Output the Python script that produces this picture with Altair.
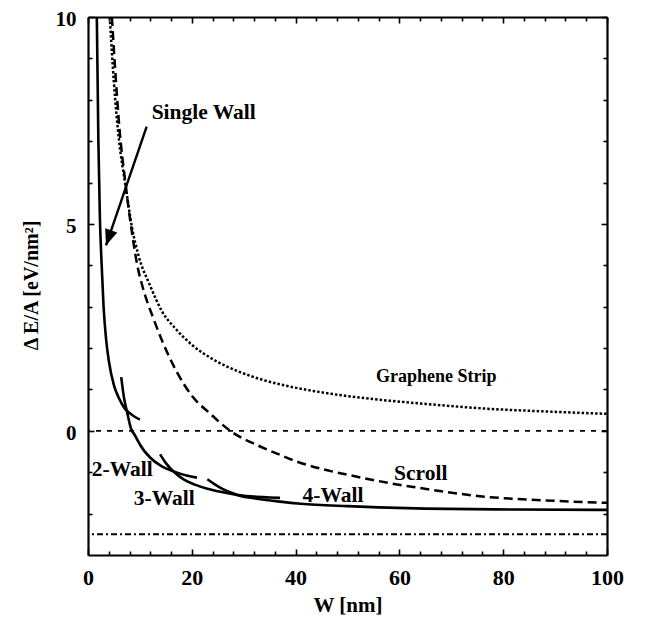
import altair as alt
import pandas as pd

# ---- data ----
single_x = [1.7, 2.0, 2.3, 2.6, 3.0, 3.5, 4.0, 5.0, 6.0, 7.0, 8.0, 9.0, 10.0]
single_y = [10.0, 7.0, 5.1, 4.1, 3.0, 2.2, 1.7, 1.1, 0.78, 0.55, 0.43, 0.34, 0.27]

wall2_x = [6.4, 7.0, 7.5, 8.3, 9.0, 9.7, 10.0, 12.0, 14.0, 16.5, 19.0, 21.0]
wall2_y = [1.3, 0.75, 0.47, 0.05, -0.1, -0.26, -0.33, -0.65, -0.84, -0.98, -1.08, -1.13]

wall3_x = [13.9, 15.0, 16.8, 18.5, 20.6, 23.0, 25.0, 27.0, 29.0, 32.0, 35.0, 37.0]
wall3_y = [-0.57, -0.78, -1.02, -1.18, -1.30, -1.40, -1.46, -1.51, -1.55, -1.59, -1.61, -1.62]

wall4_x = [23.0, 24.5, 26.0, 27.5, 29.0, 32.0, 37.0, 41.0, 50.0, 56.0, 65.0, 82.0, 100.0]
wall4_y = [-1.17, -1.30, -1.41, -1.49, -1.56, -1.63, -1.71, -1.76, -1.82, -1.85, -1.88, -1.90, -1.91]

scroll_x = [4.6, 5.2, 6.0, 7.3, 8.4, 9.5, 10.7, 12.5, 14.2, 17.0, 20.0, 23.5, 27.4,
            32.5, 37.0, 40.2, 45.0, 50.0, 58.0, 66.0, 75.5, 88.0, 100.0]
scroll_y = [10.0, 8.8, 7.4, 5.9, 4.85, 4.0, 3.4, 2.75, 2.2, 1.45, 0.85, 0.42, 0.0,
            -0.34, -0.58, -0.74, -0.92, -1.06, -1.26, -1.42, -1.58, -1.68, -1.74]

strip_x = [4.2, 5.0, 6.0, 7.26, 8.5, 9.7, 12.0, 14.2, 17.0, 20.0, 24.5, 29.3, 34.0,
           38.9, 45.0, 50.0, 58.0, 67.0, 77.5, 88.0, 100.0]
strip_y = [10.0, 8.4, 7.0, 5.9, 4.9, 4.25, 3.5, 2.9, 2.45, 2.08, 1.7, 1.42, 1.22,
           1.07, 0.93, 0.84, 0.73, 0.63, 0.53, 0.47, 0.41]

ref_zero = [0.0]
ref_limit = [-2.5]

x_major = [0, 20, 40, 60, 80, 100]
x_minor = [4, 8, 12, 16, 24, 28, 32, 36, 44, 48, 52, 56, 64, 68, 72, 76, 84, 88, 92, 96]
y_major = [0, 5, 10]
y_minor = [-2, -1, 1, 2, 3, 4, 6, 7, 8, 9]

label_text = ["Single Wall", "Graphene Strip", "Scroll", "2-Wall", "3-Wall", "4-Wall"]
label_x = [22.3, 67.1, 64.1, 6.6, 14.7, 47.2]
label_y = [7.53, 1.18, -1.18, -1.10, -1.80, -1.72]
label_size = [21.5, 18, 21.5, 21.5, 21.5, 21.5]

arrow_from = (11.3, 7.35)
arrow_to = (3.47, 4.48)

FONT = "Liberation Serif"
xs = alt.Scale(domain=[0, 100], nice=False, zero=False)
ys = alt.Scale(domain=[-3, 10], nice=False, zero=False)

walls = pd.concat([
    pd.DataFrame({"W": single_x, "E": single_y, "s": "single"}),
    pd.DataFrame({"W": wall2_x, "E": wall2_y, "s": "w2"}),
    pd.DataFrame({"W": wall3_x, "E": wall3_y, "s": "w3"}),
    pd.DataFrame({"W": wall4_x, "E": wall4_y, "s": "w4"}),
])
scroll = pd.DataFrame({"W": scroll_x, "E": scroll_y})
strip = pd.DataFrame({"W": strip_x, "E": strip_y})


def X(field="W"):
    return alt.X(f"{field}:Q", scale=xs, axis=None)


def Y(field="E"):
    return alt.Y(f"{field}:Q", scale=ys, axis=None)


wall_layer = alt.Chart(walls).mark_line(
    color="black", strokeWidth=2.6, interpolate="monotone", clip=True
).encode(x=X(), y=Y(), detail="s:N")

scroll_layer = alt.Chart(scroll).mark_line(
    color="black", strokeWidth=2.5, strokeDash=[9, 5], interpolate="monotone", clip=True
).encode(x=X(), y=Y())

strip_layer = alt.Chart(strip).mark_line(
    color="black", strokeWidth=2.5, strokeDash=[2.5, 2], interpolate="monotone", clip=True
).encode(x=X(), y=Y())

zero_layer = alt.Chart(pd.DataFrame({"E": ref_zero})).mark_rule(
    color="black", strokeWidth=1.8, strokeDash=[5, 6]
).encode(y=Y())

limit_layer = alt.Chart(pd.DataFrame({"E": ref_limit})).mark_rule(
    color="black", strokeWidth=2, strokeDash=[6, 3, 2, 3]
).encode(y=Y())

labels = pd.DataFrame({"t": label_text, "W": label_x, "E": label_y, "fs": label_size})
label_layer = alt.Chart(labels).mark_text(
    font=FONT, fontWeight="bold", color="black", align="center", baseline="alphabetic"
).encode(x=X(), y=Y(), text="t:N", size=alt.Size("fs:Q", scale=None, legend=None))

arrow_df = pd.DataFrame({"W": [arrow_from[0]], "E": [arrow_from[1]],
                         "W2": [arrow_to[0]], "E2": [arrow_to[1]]})
arrow_shaft = alt.Chart(arrow_df).mark_rule(color="black", strokeWidth=2.4).encode(
    x=X(), y=Y(), x2="W2:Q", y2="E2:Q")
arrow_head = alt.Chart(arrow_df).mark_point(
    shape="M0,0 L-0.4,1 L0.4,1 Z", filled=True, color="black", opacity=1,
    size=1024, angle=199
).encode(x=X("W2"), y=Y("E2"))

# ---- axes (labels + inward major/minor ticks on all sides, frame via domains) ----
ax_df = pd.DataFrame({"W": [50], "E": [0]})


def axis_layer(xaxis, yaxis):
    return alt.Chart(ax_df).mark_point(opacity=0).encode(
        x=alt.X("W:Q", scale=xs, axis=xaxis),
        y=alt.Y("E:Q", scale=ys, axis=yaxis),
    )


dom = dict(domain=True, domainColor="black", domainWidth=2.2, grid=False)
tick_common = dict(grid=False, domain=False, labels=False, title=None,
                   tickColor="black", tickWidth=1.6)

lab_x = alt.Axis(orient="bottom", values=x_major, ticks=False, labelFont=FONT,
                 labelFontSize=22, labelFontWeight="bold", labelColor="black",
                 labelPadding=29, labelBaseline="alphabetic", labelOverlap=False,
                 labelFlush=False, format="d", title="W [nm]", titleFont=FONT,
                 titleFontSize=21, titleFontWeight="bold", titleColor="black",
                 titleY=56, titleBaseline="alphabetic", **dom)
lab_y = alt.Axis(orient="left", values=y_major, ticks=False, labelFont=FONT,
                 labelFontSize=21, labelFontWeight="bold", labelColor="black",
                 labelPadding=12, labelOffset=2.5, labelOverlap=False, labelFlush=False,
                 format="d",
                 title="Δ E/A [eV/nm²]", titleFont=FONT, titleFontSize=20,
                 titleFontWeight="bold", titleColor="black", titleAngle=270,
                 titleX=-51, titleY=268, titleAlign="center",
                 titleBaseline="alphabetic", **dom)
frame_x = alt.Axis(orient="top", values=x_major, ticks=False, labels=False, title=None, **dom)
frame_y = alt.Axis(orient="right", values=y_major, ticks=False, labels=False, title=None, **dom)

axes = [
    axis_layer(lab_x, lab_y),
    axis_layer(frame_x, frame_y),
    axis_layer(alt.Axis(orient="bottom", offset=-6, tickSize=6, values=x_major, **tick_common),
               alt.Axis(orient="left", offset=-6, tickSize=6, values=y_major, **tick_common)),
    axis_layer(alt.Axis(orient="bottom", offset=-4, tickSize=4, values=x_minor, **tick_common),
               alt.Axis(orient="left", offset=-4, tickSize=4, values=y_minor, **tick_common)),
    axis_layer(alt.Axis(orient="top", offset=-6, tickSize=6, values=x_major, **tick_common),
               alt.Axis(orient="right", offset=-6, tickSize=6, values=y_major, **tick_common)),
    axis_layer(alt.Axis(orient="top", offset=-4, tickSize=4, values=x_minor, **tick_common),
               alt.Axis(orient="right", offset=-4, tickSize=4, values=y_minor, **tick_common)),
]

chart = alt.layer(
    *axes, zero_layer, limit_layer, strip_layer, scroll_layer, wall_layer,
    arrow_shaft, arrow_head, label_layer
).resolve_axis(x="independent", y="independent").properties(
    width=519, height=538,
    padding={"left": 80, "top": 9, "right": 30, "bottom": 61},
    autosize=alt.AutoSizeParams(type="none"),
).configure_view(stroke=None).configure(background="white")

chart.save("out.html", embed_options={"renderer": "svg", "actions": False})
